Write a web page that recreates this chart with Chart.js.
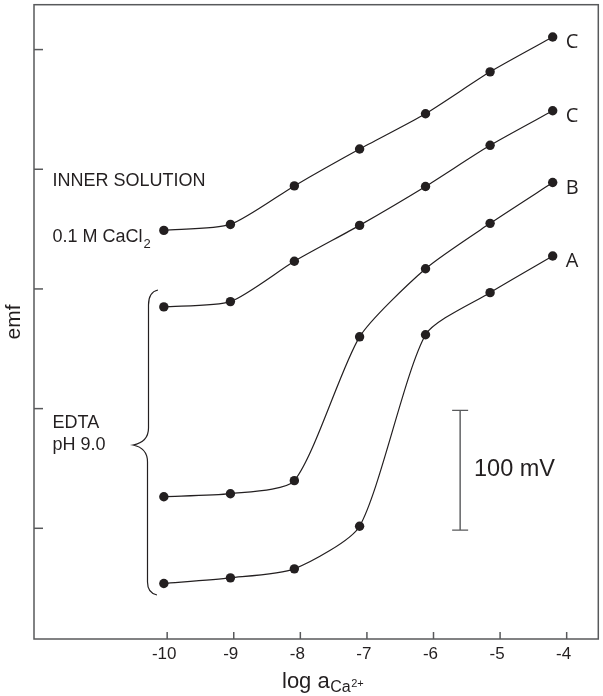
<!DOCTYPE html>
<html><head><meta charset="utf-8">
<script src="https://cdn.jsdelivr.net/npm/chart.js@4"></script>
<style>html,body{margin:0;padding:0;background:#fff;}canvas{display:block;}</style>
</head><body>
<canvas id="c" width="603" height="696"></canvas>
<script>
// ---- data ----
const xValues   = [-10.05, -9.05, -8.09, -7.11, -6.12, -5.15, -4.21]; // log a(Ca2+)
const seriesC1  = [248.9, 253.9, 286.1, 316.9, 346.4, 381.4, 410.5];   // emf, mV (arbitrary zero)
const seriesC2  = [185.0, 189.4, 223.1, 253.1, 285.6, 320.0, 348.9];
const seriesB   = [26.4, 28.9, 39.8, 160.0, 216.9, 254.8, 288.9];
const seriesA   = [-46.1, -41.4, -33.9, 1.7, 161.7, 196.9, 227.5];
const seriesLabels = ['C', 'C', 'B', 'A'];
const xTickValues = [-10, -9, -8, -7, -6, -5, -4];
const yTickValues = [0, 100, 200, 300, 400];
const scaleBarFrom = -1.5, scaleBarSpan = 100, scaleBarX = -5.60;

const ink = '#231f20';
const frameColor = '#58595b';
const sans = '"Liberation Sans", Arial, sans-serif';

function pts(ys){ return xValues.map((x, i) => ({x: x, y: ys[i]})); }
function ds(ys){
  return {
    data: pts(ys), borderColor: ink, borderWidth: 1.2, backgroundColor: ink,
    pointRadius: 4.7, pointBorderWidth: 0, pointBackgroundColor: ink,
    tension: 0.22, fill: false
  };
}

const decor = {
  id: 'decor',
  afterDraw(chart){
    const ctx = chart.ctx, a = chart.chartArea, xs = chart.scales.x, ys = chart.scales.y;
    ctx.save();
    // frame
    ctx.strokeStyle = frameColor; ctx.lineWidth = 1.5;
    ctx.strokeRect(a.left, a.top, a.right - a.left, a.bottom - a.top);
    // inward ticks
    yTickValues.forEach(v => {
      const py = ys.getPixelForValue(v);
      ctx.beginPath(); ctx.moveTo(a.left, py); ctx.lineTo(a.left + 9, py); ctx.stroke();
    });
    xTickValues.forEach(v => {
      const px = xs.getPixelForValue(v);
      ctx.beginPath(); ctx.moveTo(px, a.bottom); ctx.lineTo(px, a.bottom - 7); ctx.stroke();
    });
    // series end labels
    ctx.fillStyle = ink; ctx.textAlign = 'left'; ctx.textBaseline = 'alphabetic';
    ctx.font = '20px "Open Sans", sans-serif';
    chart.data.datasets.forEach((d, i) => {
      const meta = chart.getDatasetMeta(i);
      const p = meta.data[meta.data.length - 1];
      ctx.fillText(seriesLabels[i], p.x + 13, p.y + 11);
    });
    // annotations
    ctx.font = '18px ' + sans;
    ctx.fillText('INNER SOLUTION', 52.5, 186);
    ctx.fillText('0.1 M CaCl', 52.5, 241.7);
    let w = ctx.measureText('0.1 M CaCl').width;
    ctx.font = '13px ' + sans;
    ctx.fillText('2', 52.5 + w + 1, 247.5);
    ctx.font = '18px ' + sans;
    ctx.fillText('EDTA', 52.5, 428.3);
    ctx.fillText('pH 9.0', 52.5, 450);
    // brace
    ctx.strokeStyle = ink; ctx.lineWidth = 1.2;
    ctx.beginPath();
    ctx.moveTo(158, 290);
    ctx.quadraticCurveTo(148.5, 292, 148.5, 305);
    ctx.lineTo(148.5, 428);
    ctx.quadraticCurveTo(148.5, 442, 133, 445);
    ctx.quadraticCurveTo(147.5, 448, 147.5, 462);
    ctx.lineTo(147.5, 582);
    ctx.quadraticCurveTo(147.5, 593, 157, 595);
    ctx.stroke();
    // scale bar
    const bx = xs.getPixelForValue(scaleBarX);
    const by1 = ys.getPixelForValue(scaleBarFrom), by2 = ys.getPixelForValue(scaleBarFrom + scaleBarSpan);
    ctx.strokeStyle = frameColor; ctx.lineWidth = 1.4;
    ctx.beginPath();
    ctx.moveTo(bx, by1); ctx.lineTo(bx, by2);
    ctx.moveTo(bx - 8, by1); ctx.lineTo(bx + 8, by1);
    ctx.moveTo(bx - 8, by2); ctx.lineTo(bx + 8, by2);
    ctx.stroke();
    ctx.fillStyle = ink;
    ctx.font = '23.5px ' + sans;
    ctx.fillText('100 mV', 474, 475.7);
    // y title
    ctx.save();
    ctx.translate(20, 322); ctx.rotate(-Math.PI / 2);
    ctx.textAlign = 'center'; ctx.font = '21px ' + sans;
    ctx.fillText('emf', 0, 0);
    ctx.restore();
    // x title: log a_{Ca^{2+}}
    let tx = 282;
    ctx.textAlign = 'left';
    ctx.font = '22px ' + sans;
    ctx.fillText('log a', tx, 688); tx += ctx.measureText('log a').width + 0.5;
    ctx.font = '16px ' + sans;
    ctx.fillText('Ca', tx, 692); tx += ctx.measureText('Ca').width + 0.5;
    ctx.font = '11px ' + sans;
    ctx.fillText('2+', tx, 686.5);
    ctx.restore();
  }
};

new Chart(document.getElementById('c'), {
  type: 'line',
  data: { datasets: [ds(seriesC1), ds(seriesC2), ds(seriesB), ds(seriesA)] },
  options: {
    responsive: false, animation: false,
    layout: { padding: { top: 3, right: 4, left: 0, bottom: 0 } },
    plugins: { legend: { display: false }, tooltip: { enabled: false } },
    scales: {
      x: {
        type: 'linear', min: -12, max: -3.525,
        afterBuildTicks: s => { s.ticks = xTickValues.map(v => ({value: v})); },
        afterFit: s => { s.height = 57; },
        grid: { display: false, drawTicks: false },
        border: { display: false },
        ticks: { color: ink, font: { family: sans, size: 17 }, padding: 5, labelOffset: -3,
                 maxRotation: 0, autoSkip: false }
      },
      y: {
        type: 'linear', min: -92.5, max: 437.5,
        afterFit: s => { s.width = 34; },
        grid: { display: false, drawTicks: false },
        border: { display: false },
        ticks: { display: false }
      }
    }
  },
  plugins: [decor]
});
</script>
</body></html>
